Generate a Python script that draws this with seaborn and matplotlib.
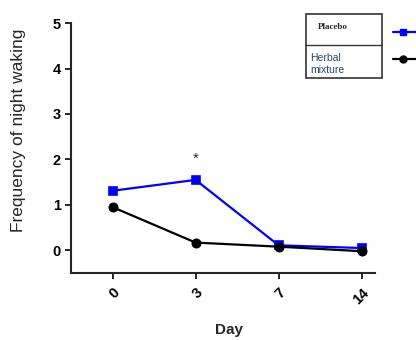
import numpy as np
import pandas as pd
import matplotlib
matplotlib.use('Agg')
import matplotlib.pyplot as plt
import seaborn as sns
from matplotlib.lines import Line2D
from matplotlib.patches import Rectangle

days = ['0', '3', '7', '14']
placebo = [1.31, 1.55, 0.11, 0.05]
herbal = [0.95, 0.17, 0.08, -0.02]
groups = ['Placebo', 'Herbal mixture']
colors = ['#0000ff', '#000000']

df = pd.DataFrame({
    'day': days * 2,
    'value': placebo + herbal,
    'group': [groups[0]] * 4 + [groups[1]] * 4,
})

sns.set_style('ticks')
plt.rcParams['font.family'] = ['Liberation Sans', 'DejaVu Sans']

fig = plt.figure(figsize=(4.16, 3.4), dpi=100)
ax = fig.add_axes([0.171, 0.197, 0.73, 0.735])

sns.pointplot(data=df, x='day', y='value', hue='group', order=days,
              hue_order=groups, palette=colors, markers=['s', 'o'],
              linestyles=['-', '-'], markersize=6, linewidth=1.6,
              legend=False, ax=ax)

ax.set_xlim(-0.5, 3.16)
ax.set_ylim(-0.5, 5)
ax.set_yticks([0, 1, 2, 3, 4, 5])
ax.set_xticks(range(len(days)))
ax.set_xticklabels(days, rotation=45, ha='right', rotation_mode='anchor',
                   fontsize=10.5, fontweight='bold')
for lab in ax.get_yticklabels():
    lab.set_fontsize(10.5)
    lab.set_fontweight('bold')
ax.tick_params(axis='both', direction='out', length=4, width=1.2, colors='black')
ax.tick_params(axis='x', pad=5)
for s in ['left', 'bottom']:
    ax.spines[s].set_linewidth(1.5)
sns.despine(ax=ax)

ax.set_xlabel('Day', fontsize=11, fontweight='bold')
ax.xaxis.set_label_coords(0.52, -0.2)
ax.set_ylabel('Frequency of night waking', fontsize=12.5)
ax.yaxis.set_label_coords(-0.148, 0.57)

# significance mark at day 3
ax.text(1, placebo[1] + 0.3, '*', ha='center', va='bottom', fontsize=11)

# legend box drawn as a small table, symbols to the right
bx, by, bw, bh = 306 / 416, 1 - 78 / 340, 76 / 416, 64 / 340
fig.patches.append(Rectangle((bx, by), bw, bh, transform=fig.transFigure,
                             fill=False, edgecolor='#333333', linewidth=1.2))
fig.lines.append(Line2D([bx, bx + bw], [by + bh * 0.52, by + bh * 0.52],
                        transform=fig.transFigure, color='#333333', linewidth=1.0))
fig.text(bx + 0.028, by + bh * 0.8, 'Placebo', family='Liberation Serif',
         fontsize=6.5, fontweight='bold', va='center')
fig.text(bx + 0.01, by + bh * 0.22, 'Herbal\nmixture', fontsize=7.5, va='center',
         color='#334466', linespacing=1.25)
for yy, c, m in [(by + bh * 0.72, colors[0], 's'), (by + bh * 0.3, colors[1], 'o')]:
    fig.lines.append(Line2D([393 / 416, 403 / 416, 1.0], [yy, yy, yy],
                            transform=fig.transFigure, color=c, linewidth=1.6,
                            marker=m, markersize=5, markevery=[1],
                            markerfacecolor=c))

fig.savefig('out.png', dpi=100)
